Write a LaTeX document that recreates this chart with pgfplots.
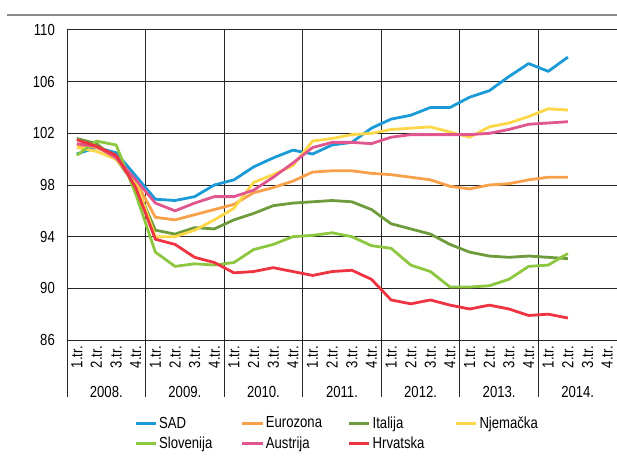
\documentclass[border=0pt]{standalone}
\usepackage{fontspec}
\setmainfont[FakeStretch=0.82]{Liberation Sans}
\usepackage{pgfplots}
\usepackage{pgfplotstable}
\pgfplotsset{compat=1.18}
\definecolor{cSAD}{HTML}{1A9BD7}
\definecolor{cEUR}{HTML}{F8A04A}
\definecolor{cITA}{HTML}{6E9B3C}
\definecolor{cNJE}{HTML}{FDD748}
\definecolor{cSLO}{HTML}{8DC63F}
\definecolor{cAUT}{HTML}{E0568F}
\definecolor{cHRV}{HTML}{EE3442}
\pgfplotstableread{
x sad euro ita nje slo aut hrv
0.5 100.4 101.1 101.6 100.9 100.3 101.2 101.5
1.5 100.9 100.9 101.2 100.6 101.4 101.0 101.0
2.5 100.5 100.2 100.0 100.0 101.1 100.1 100.3
3.5 98.7 98.3 98.0 98.2 97.3 98.4 97.8
4.5 96.9 95.5 94.5 94.0 92.8 96.6 93.8
5.5 96.8 95.3 94.2 94.0 91.7 96.0 93.4
6.5 97.1 95.7 94.7 94.5 91.9 96.6 92.4
7.5 98.0 96.1 94.6 95.3 91.8 97.1 92.0
8.5 98.4 96.5 95.3 96.2 92.0 97.1 91.2
9.5 99.4 97.4 95.8 98.2 93.0 97.6 91.3
10.5 100.1 97.8 96.4 98.8 93.4 98.6 91.6
11.5 100.7 98.3 96.6 99.5 94.0 99.7 91.3
12.5 100.4 99.0 96.7 101.4 94.1 100.9 91.0
13.5 101.1 99.1 96.8 101.6 94.3 101.3 91.3
14.5 101.3 99.1 96.7 101.9 94.0 101.3 91.4
15.5 102.4 98.9 96.1 102.0 93.3 101.2 90.7
16.5 103.1 98.8 95.0 102.3 93.1 101.7 89.1
17.5 103.4 98.6 94.6 102.4 91.8 101.9 88.8
18.5 104.0 98.4 94.2 102.5 91.3 101.9 89.1
19.5 104.0 97.9 93.4 102.1 90.1 101.9 88.7
20.5 104.8 97.7 92.8 101.7 90.1 101.9 88.4
21.5 105.3 98.0 92.5 102.5 90.2 102.0 88.7
22.5 106.4 98.1 92.4 102.8 90.7 102.3 88.4
23.5 107.4 98.4 92.5 103.3 91.7 102.7 87.9
24.5 106.8 98.6 92.4 103.9 91.8 102.8 88.0
25.5 107.9 98.6 92.3 103.8 92.7 102.9 87.7
}\datatable
\begin{document}
\begin{tikzpicture}[x=1pt,y=1pt]
\path[use as bounding box] (0,0) rectangle (617,455);
\draw[black!45, line width=2pt] (7,440) -- (617,440);
\begin{axis}[
  at={(67pt,115pt)}, anchor=south west,
  scale only axis, width=550pt, height=310pt,
  xmin=0, xmax=28, ymin=86, ymax=110,
  ytick={86,90,...,110},
  xtick={0.5,1.5,...,27.5},
  xticklabels={1.tr.,2.tr.,3.tr.,4.tr.,1.tr.,2.tr.,3.tr.,4.tr.,1.tr.,2.tr.,3.tr.,4.tr.,1.tr.,2.tr.,3.tr.,4.tr.,1.tr.,2.tr.,3.tr.,4.tr.,1.tr.,2.tr.,3.tr.,4.tr.,1.tr.,2.tr.,3.tr.,4.tr.},
  ymajorgrids,
  grid style={black!85, line width=1pt},
  axis x line*=bottom, axis y line*=left,
  axis line style={black!85, line width=1pt, -},
  major tick length=0pt,
  clip=false,
  font=\fontsize{16}{19}\selectfont,
  /pgf/number format/assume math mode=true,
  yticklabel style={anchor=east, inner sep=0pt, xshift=-12pt, font=\fontsize{16}{19}\selectfont},
  xticklabel style={rotate=90, anchor=east, inner xsep=6pt, inner ysep=0pt, font=\fontsize{16}{19}\selectfont},
  legend columns=4,
  legend style={at={(axis description cs:0.122,-0.24)}, anchor=north west, draw=none, fill=none,
    font=\fontsize{16}{19}\selectfont, inner sep=0pt, row sep=3pt,
    /tikz/every even column/.append style={column sep=0pt}},
  legend image code/.code={\draw[#1] (0pt,0pt) -- (20pt,0pt);},
  every axis plot/.append style={line width=2.8pt, line join=round},
]
\pgfplotsinvokeforeach{0,4,8,12,16,20,24}{
  \draw[black!85, line width=1pt] (axis cs:#1,110) -- ([yshift=-57pt]axis cs:#1,86);
}
\addplot[cSAD] table[x=x,y=sad] {\datatable};
\addlegendentry{\makebox[80pt][l]{SAD}}
\addplot[cEUR] table[x=x,y=euro] {\datatable};
\addlegendentry{\makebox[80pt][l]{Eurozona}}
\addplot[cITA] table[x=x,y=ita] {\datatable};
\addlegendentry{\makebox[80pt][l]{Italija}}
\addplot[cNJE] table[x=x,y=nje] {\datatable};
\addlegendentry{\makebox[80pt][l]{Njemačka}}
\addplot[cSLO] table[x=x,y=slo] {\datatable};
\addlegendentry{\makebox[80pt][l]{Slovenija}}
\addplot[cAUT] table[x=x,y=aut] {\datatable};
\addlegendentry{\makebox[80pt][l]{Austrija}}
\addplot[cHRV] table[x=x,y=hrv] {\datatable};
\addlegendentry{\makebox[80pt][l]{Hrvatska}}
\node[anchor=base] at ([yshift=-57pt]axis cs:2,86) {2008.};
\node[anchor=base] at ([yshift=-57pt]axis cs:6,86) {2009.};
\node[anchor=base] at ([yshift=-57pt]axis cs:10,86) {2010.};
\node[anchor=base] at ([yshift=-57pt]axis cs:14,86) {2011.};
\node[anchor=base] at ([yshift=-57pt]axis cs:18,86) {2012.};
\node[anchor=base] at ([yshift=-57pt]axis cs:22,86) {2013.};
\node[anchor=base] at ([yshift=-57pt]axis cs:26,86) {2014.};
\end{axis}
\end{tikzpicture}
\end{document}
